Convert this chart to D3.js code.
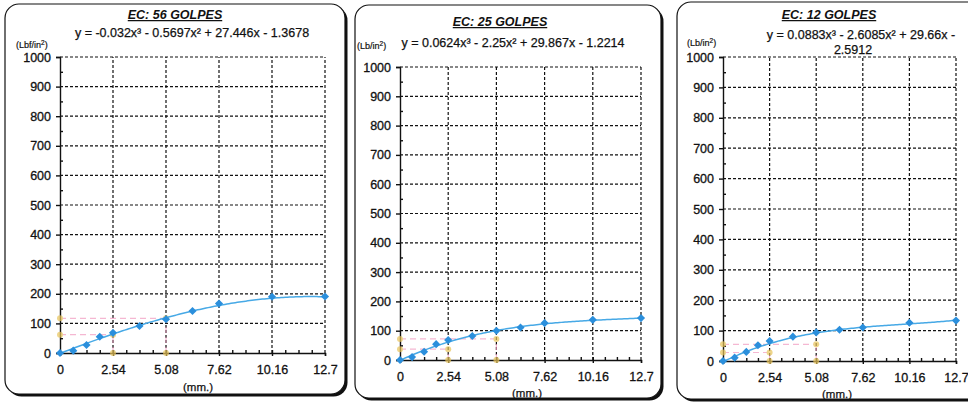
<!DOCTYPE html>
<html>
<head>
<meta charset="utf-8">
<script src="https://cdn.jsdelivr.net/npm/d3@7"></script>
<style>
  body { margin: 0; background: #fff; }
  svg { display: block; font-family: "Liberation Sans", Arial, sans-serif; }
</style>
</head>
<body>
<div id="chart"></div>
<script>
"use strict"

// penetracion (mm.) y cargas leidas (Lbf/in2)
const penetration = [0, 0.635, 1.27, 1.905, 2.54, 3.81, 5.08, 6.35, 7.62, 10.16, 12.7]
const loads56 = [0, 8, 27, 55, 68, 91, 114, 142, 167, 190, 191]
const loads25 = [0, 10, 28, 54, 68, 82, 100, 111, 126, 137, 143]
const loads12 = [0, 11, 30, 52, 66, 80, 94, 103, 110, 126, 133]

// coeficientes de la linea de tendencia [x3, x2, x, c]
const coefs56 = [-0.032, -0.5697, 27.446, -1.3678]
const coefs25 = [0.0624, -2.25, 29.867, -1.2214]
const coefs12 = [0.0883, -2.6085, 29.66, -2.5912]

// lecturas corregidas a 2.54 y 5.08 mm
const marks56 = [62, 117]
const marks25 = [37, 72]
const marks12 = [28, 55]

const xTicks = [0, 2.54, 5.08, 7.62, 10.16, 12.7]
const yTicks = [0, 100, 200, 300, 400, 500, 600, 700, 800, 900, 1000]

const panels = [
  { title: "EC: 56 GOLPES", unit: "(Lbf/in", eq: ["y = -0.032x³ - 0.5697x² + 27.446x - 1.3678"],
    loads: loads56, coefs: coefs56, marks: marks56,
    box: [5, 4, 340, 390], x: [60, 325], y: [353, 57],
    titleX: 175, titleY: 19, eqX: 192, eqY: 37, unitX: 16, unitY: 48, xlabY: 372, mmX: 198, mmY: 391 },
  { title: "EC: 25 GOLPES", unit: "(Lb/in", eq: ["y = 0.0624x³ - 2.25x² + 29.867x - 1.2214"],
    loads: loads25, coefs: coefs25, marks: marks25,
    box: [355, 5, 306, 393], x: [400, 641], y: [360, 67],
    titleX: 500, titleY: 26, eqX: 513, eqY: 47, unitX: 357, unitY: 49, xlabY: 381, mmX: 527, mmY: 397 },
  { title: "EC: 12  GOLPES", unit: "(Lb/in", eq: ["y = 0.0883x³ - 2.6085x² + 29.66x -", "2.5912"],
    loads: loads12, coefs: coefs12, marks: marks12,
    box: [677, 2, 320, 397], x: [723, 956], y: [361, 57],
    titleX: 829, titleY: 19, eqX: 861, eqY: 39, unitX: 687, unitY: 46, xlabY: 380, mmX: 837, mmY: 398 }
]

const svg = d3.select("#chart").append("svg")
  .attr("width", 968)
  .attr("height", 403)

const ink = "#111"
const blue = "#2b8fdc"
const curveColor = "#47a9e6"

function poly(c, x) {
  return c[0] * x * x * x + c[1] * x * x + c[2] * x + c[3]
}

// trazo fino sobre el texto para imitar el escaneo
function heavy(sel, w) {
  return sel.attr("stroke", ink).attr("stroke-width", w || 0.3)
}

panels.forEach((p) => {
  const g = svg.append("g")
  const [bx, by, bw, bh] = p.box

  // marco con sombra
  g.append("rect")
    .attr("x", bx + 2.5).attr("y", by + 2.5)
    .attr("width", bw).attr("height", bh)
    .attr("rx", 14)
    .attr("fill", ink)
  g.append("rect")
    .attr("x", bx).attr("y", by)
    .attr("width", bw).attr("height", bh)
    .attr("rx", 14)
    .attr("fill", "#fff")
    .attr("stroke", ink)
    .attr("stroke-width", 1.2)

  const x = d3.scaleLinear().domain([0, 12.7]).range(p.x)
  const y = d3.scaleLinear().domain([0, 1000]).range(p.y)

  // titulo y ecuacion
  g.append("text")
    .attr("x", p.titleX).attr("y", p.titleY)
    .attr("text-anchor", "middle")
    .attr("font-size", 12.5).attr("font-weight", "bold").attr("font-style", "italic")
    .attr("text-decoration", "underline")
    .attr("fill", ink)
    .text(p.title)

  p.eq.forEach((line, i) => {
    heavy(g.append("text")
      .attr("x", i == 0 ? p.eqX : 853).attr("y", p.eqY + i * 15)
      .attr("text-anchor", "middle")
      .attr("font-size", 12.5)
      .attr("fill", ink)
      .text(line), 0.25)
  })

  const unit = g.append("text")
    .attr("x", p.unitX).attr("y", p.unitY)
    .attr("font-size", 9)
    .attr("fill", ink)
    .text(p.unit)
  unit.append("tspan").attr("dy", -3).attr("font-size", 6.5).text("2")
  unit.append("tspan").attr("dy", 3).text(")")
  heavy(unit, 0.2)

  // rejilla
  g.append("g")
    .selectAll("line")
    .data(yTicks.slice(1))
    .join("line")
      .attr("x1", p.x[0]).attr("x2", p.x[1])
      .attr("y1", (d) => y(d)).attr("y2", (d) => y(d))
      .attr("stroke", ink).attr("stroke-width", 1.2)
      .attr("stroke-dasharray", "3,2")

  g.append("g")
    .selectAll("line")
    .data(xTicks.slice(1))
    .join("line")
      .attr("x1", (d) => x(d)).attr("x2", (d) => x(d))
      .attr("y1", p.y[0]).attr("y2", p.y[1])
      .attr("stroke", ink).attr("stroke-width", 1.2)
      .attr("stroke-dasharray", "3,2")

  // ejes
  const yAxis = g.append("g")
    .attr("transform", `translate(${p.x[0]},0)`)
    .call(d3.axisLeft(y).tickValues(yTicks).tickSize(4).tickPadding(5).tickFormat(d3.format("d")))
  yAxis.append("g")
    .call(d3.axisRight(y).tickValues(d3.range(50, 1000, 100)).tickSize(3).tickFormat(""))
    .call((a) => a.select(".domain").remove())

  const xAxis = g.append("g")
    .attr("transform", `translate(0,${p.y[0]})`)
    .call(d3.axisBottom(x).tickValues(xTicks).tickSize(3).tickPadding(7).tickFormat((d) => d))
  xAxis.append("g")
    .call(d3.axisTop(x).tickValues(d3.range(0.635, 12.7, 0.635)).tickSize(3).tickFormat(""))
    .call((a) => a.select(".domain").remove())

  g.selectAll(".domain, .tick line").attr("stroke", ink).attr("stroke-width", 1.4)
  heavy(g.selectAll(".tick text").attr("font-size", 12.5).attr("fill", ink)
    .attr("font-family", "'Liberation Sans', Arial, sans-serif"), 0.3)
  xAxis.selectAll(".tick text").attr("dy", "0.9em")

  heavy(g.append("text")
    .attr("x", p.mmX).attr("y", p.mmY)
    .attr("text-anchor", "middle")
    .attr("font-size", 11.5)
    .attr("fill", ink)
    .text("(mm.)"), 0.25)

  // lineas de correccion
  const corr = g.append("g").attr("opacity", 0.7)
  p.marks.forEach((m, i) => {
    const px = xTicks[i + 1]
    corr.append("line")
      .attr("x1", x(0)).attr("x2", x(px))
      .attr("y1", y(m)).attr("y2", y(m))
      .attr("stroke", "#f29ac0").attr("stroke-width", 1.2)
      .attr("stroke-dasharray", "6,4")
    corr.append("line")
      .attr("x1", x(px)).attr("x2", x(px))
      .attr("y1", y(0)).attr("y2", y(m))
      .attr("stroke", "#f29ac0").attr("stroke-width", 1.2)
      .attr("stroke-dasharray", "6,4")
    corr.selectAll(null)
      .data([[0, m], [px, m], [px, 0]])
      .join("circle")
        .attr("cx", (d) => x(d[0])).attr("cy", (d) => y(d[1]))
        .attr("r", 3)
        .attr("fill", "#e8c45a")
  })

  // linea de tendencia
  const curveData = d3.range(0, 12.7001, 0.1).map((v) => [v, poly(p.coefs, v)])
  g.append("path")
    .datum(curveData)
    .attr("fill", "none")
    .attr("stroke", curveColor)
    .attr("stroke-width", 1.5)
    .attr("d", d3.line().x((d) => x(d[0])).y((d) => y(d[1])))

  // puntos
  g.append("g")
    .selectAll("path")
    .data(penetration.map((v, i) => [v, p.loads[i]]))
    .join("path")
      .attr("transform", (d) => `translate(${x(d[0])},${y(d[1])})`)
      .attr("d", d3.symbol(d3.symbolDiamond2, 42))
      .attr("fill", blue)
})
</script>
</body>
</html>
